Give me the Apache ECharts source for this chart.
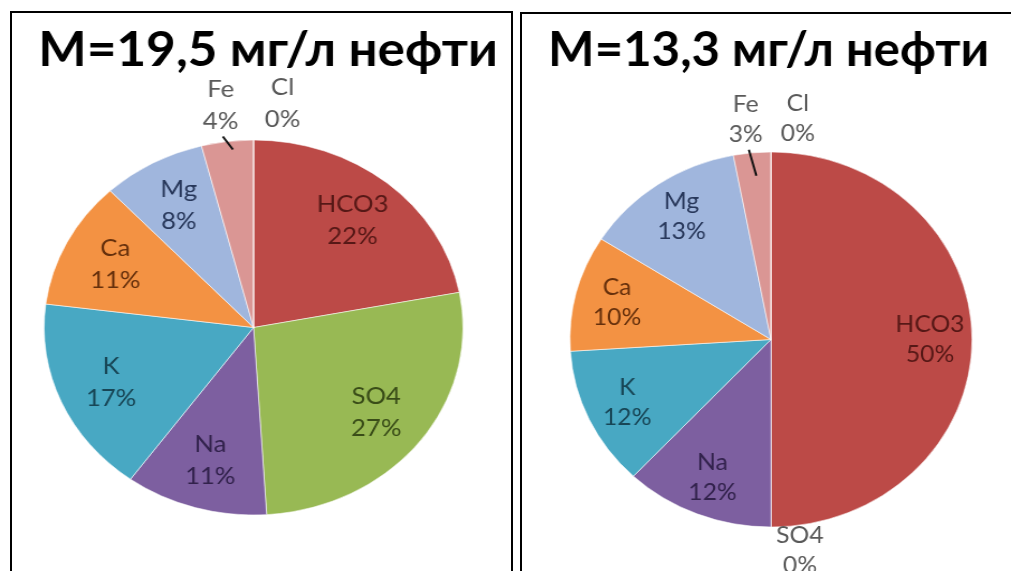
<!DOCTYPE html>
<html>
<head>
<meta charset="utf-8">
<script src="https://cdn.jsdelivr.net/npm/echarts@6/dist/echarts.min.js"></script>
<style>
  html, body { margin: 0; padding: 0; background: #fff; }
  body { width: 1011px; height: 571px; position: relative; overflow: hidden; }
  .frame { position: absolute; border: 2px solid #000; box-sizing: border-box; }
  #frameA { left: 10px; top: 11px; width: 503px; height: 600px; }
  #frameB { left: 520px; top: 12px; width: 700px; height: 600px; }
  .chart { position: absolute; top: 0; height: 571px; transform-origin: 0 0; }
  #chartA { left: 0; width: 465px; transform: scaleX(1.117); }
  #chartB { left: 521px; width: 457px; transform: scaleX(1.072); }
</style>
</head>
<body>
<div id="frameA" class="frame"></div>
<div id="frameB" class="frame"></div>
<div id="chartA" class="chart"></div>
<div id="chartB" class="chart"></div>
<script>
// Ion composition of the water extracted from oil, share of each ion in %
const ions = ['HCO3', 'SO4', 'Na', 'K', 'Ca', 'Mg', 'Fe', 'Cl'];
const shareA = [22, 27, 11, 17, 11, 8, 4, 0];
const shareB = [50, 0, 12, 12, 10, 13, 3, 0];
const titleA = 'М=19,5 мг/л нефти';
const titleB = 'М=13,3 мг/л нефти';

// Slice fills and the darker tone used for their labels
const fill = {
  HCO3: '#BC4A47', SO4: '#98B954', Na: '#7D5FA0', K: '#48A8C3',
  Ca: '#F39243', Mg: '#A0B6DD', Fe: '#DA9694', Cl: '#BBBBBB'
};
const ink = {
  HCO3: '#561816', SO4: '#394C18', Na: '#32224C', K: '#184656',
  Ca: '#66300C', Mg: '#27375A', Fe: '#595959', Cl: '#595959'
};

const FONT = 'Lato, "Open Sans", sans-serif';

function makeOption(title, shares, geo) {
  const outer = geo.outer;
  const fmt = p => p.name + '\n' + p.value + '%';
  const base = {
    type: 'pie', center: [geo.cx, geo.cy], startAngle: 90, clockwise: true,
    avoidLabelOverlap: false, silent: true, emphasis: { disabled: true }
  };

  // visible slices
  const slices = ions.map((name, i) => ({
    name, value: shares[i], itemStyle: { color: fill[name] }
  }));

  // labels of the thin slices, set above the pie
  const outerData = ions.map((name, i) => {
    const o = outer[name];
    return {
      name, value: shares[i],
      label: { show: !!o },
      labelLine: { show: !!o, lineStyle: { opacity: o && o.line ? 1 : 0 } }
    };
  });

  // labels placed inside the slices
  const innerData = ions.map((name, i) => ({
    name, value: shares[i],
    label: { show: !(name in outer), color: ink[name] }
  }));

  return {
    animation: false,
    graphic: [{
      type: 'text', x: geo.titleX, y: geo.titleY, scaleX: geo.titleScale,
      style: {
        text: title, fill: '#000', fontFamily: FONT, fontWeight: 'bold',
        fontSize: 47, align: 'center', verticalAlign: 'middle'
      }
    }],
    series: [
      Object.assign({}, base, {
        z: 2, radius: [0, geo.r],
        itemStyle: { borderColor: 'rgba(255,255,255,0.55)', borderWidth: 1 },
        label: { show: false }, labelLine: { show: false },
        data: slices
      }),
      Object.assign({}, base, {
        z: 4, radius: [0, geo.r],
        itemStyle: { color: 'rgba(0,0,0,0)' },
        label: {
          position: 'outside', formatter: fmt, color: '#595959',
          fontFamily: FONT, fontSize: 23, lineHeight: geo.lh, align: 'center'
        },
        labelLine: { length: 4, length2: 0, lineStyle: { color: '#111', width: 2 } },
        labelLayout: function (p) {
          const o = outer[ions[p.dataIndex]];
          if (!o || !p.labelLinePoints) return {};
          const a = p.labelLinePoints[0];
          const res = {
            x: a[0] + o.dx, y: a[1] + o.dy,
            align: 'center', verticalAlign: 'middle'
          };
          if (o.line) {
            res.labelLinePoints = [
              [a[0] + o.line[0], a[1] + o.line[1]],
              [a[0] + o.line[2], a[1] + o.line[3]]
            ];
          }
          return res;
        },
        data: outerData
      }),
      Object.assign({}, base, {
        z: 3, radius: [0, geo.r * geo.labelK],
        itemStyle: { color: 'rgba(0,0,0,0)' },
        label: {
          position: 'inside', formatter: fmt, fontFamily: FONT,
          fontSize: 23, lineHeight: geo.lh, align: 'center'
        },
        labelLine: { show: false },
        data: innerData
      })
    ]
  };
}

const geoA = {
  cx: 227, cy: 327.5, r: 187.5, lh: 32, labelK: 1.45,
  titleX: 240, titleY: 51, titleScale: 0.975,
  outer: {
    Fe: { dx: -6, dy: -36, line: [-4, -5, 5, 8] },
    Cl: { dx: 26, dy: -36 }
  }
};
const geoB = {
  cx: 233.2, cy: 339.5, r: 187.5, lh: 30, labelK: 1.55,
  titleX: 231, titleY: 51, titleScale: 0.975,
  outer: {
    Fe: { dx: -6, dy: -33, line: [-3, -3, 4, 23] },
    Cl: { dx: 25, dy: -33 },
    SO4: { dx: 27, dy: 24 }
  }
};

const chartA = echarts.init(document.getElementById('chartA'), null, { renderer: 'canvas' });
chartA.setOption(makeOption(titleA, shareA, geoA));
const chartB = echarts.init(document.getElementById('chartB'), null, { renderer: 'canvas' });
chartB.setOption(makeOption(titleB, shareB, geoB));
</script>
</body>
</html>
